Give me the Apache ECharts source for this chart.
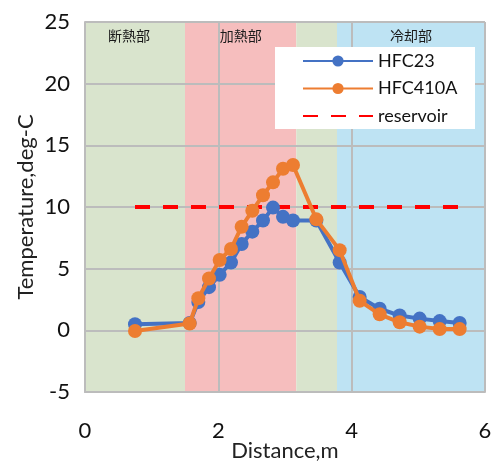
<!DOCTYPE html>
<html>
<head>
<meta charset="utf-8">
<script src="https://cdn.jsdelivr.net/npm/echarts@6/dist/echarts.min.js"></script>
<style>html,body{margin:0;padding:0;background:#fff;}#c{width:494px;height:464px;}</style>
</head>
<body>
<div id="c"></div>
<script>
// Data
const distance = [0.75, 1.57, 1.70, 1.86, 2.02, 2.19, 2.35, 2.51, 2.67, 2.82, 2.97, 3.12, 3.47, 3.82, 4.12, 4.42, 4.72, 5.02, 5.32, 5.62];
const hfc23 = [0.5, 0.6, 2.3, 3.5, 4.5, 5.5, 7.0, 8.0, 8.9, 9.95, 9.2, 8.9, 8.9, 5.5, 2.7, 1.75, 1.2, 0.95, 0.75, 0.6];
const hfc410a = [-0.05, 0.55, 2.6, 4.2, 5.7, 6.6, 8.4, 9.7, 10.95, 12.0, 13.1, 13.4, 9.0, 6.5, 2.4, 1.3, 0.65, 0.3, 0.1, 0.1];
const reservoirX = [0.75, 5.62];
const reservoirY = [10, 10];
const zoneStart = [0, 1.5, 3.17, 3.78];
const zoneEnd = [1.5, 3.17, 3.78, 6];
const zoneLabels = ['断熱部', '加熱部', '', '冷却部'];
const xTicks = [0, 2, 4, 6];
const yTicks = [-5, 0, 5, 10, 15, 20, 25];

const zoneColors = ['#D9E4CD', '#F6BEBE', '#D9E4CD', '#BEE3F3'];
const zoneLabelOffsets = [-6, 0, 0, 0];

const pair = (xs, ys) => xs.map((x, i) => [x, ys[i]]);
const font = 'Lato, "Liberation Sans", sans-serif';
const grey = '#BCBCBC';

const chart = echarts.init(document.getElementById('c'), null, {renderer: 'canvas'});
chart.setOption({
  animation: false,
  backgroundColor: '#fff',
  grid: {left: 85, right: 9, top: 22, bottom: 72, containLabel: false, outerBoundsMode: 'none'},
  xAxis: {
    type: 'value', min: xTicks[0], max: xTicks[xTicks.length - 1], interval: 2, zlevel: 1,
    name: 'Distance,m', nameLocation: 'middle', nameGap: 48, nameMoveOverlap: false,
    nameTextStyle: {fontFamily: font, fontSize: 22, color: '#222'},
    axisLine: {show: true, onZero: false, lineStyle: {color: grey, width: 2}},
    axisTick: {show: false},
    axisLabel: {fontFamily: font, fontSize: 22, color: '#111', margin: 28},
    splitLine: {show: true, showMinLine: true, showMaxLine: true, lineStyle: {color: grey, width: 2, opacity: 1}}
  },
  yAxis: {
    type: 'value', min: yTicks[0], max: yTicks[yTicks.length - 1], interval: 5, zlevel: 1,
    name: 'Temperature,deg-C', nameLocation: 'middle', nameGap: 48, nameMoveOverlap: false,
    nameTextStyle: {fontFamily: font, fontSize: 22, color: '#222'},
    axisLine: {show: true, lineStyle: {color: grey, width: 2}},
    axisTick: {show: false},
    axisLabel: {fontFamily: font, fontSize: 22, color: '#111', margin: 15},
    splitLine: {show: true, showMinLine: true, showMaxLine: true, lineStyle: {color: grey, width: 2, opacity: 1}}
  },
  legend: {
    zlevel: 3, z: 10,
    left: 302, top: 52, orient: 'vertical', padding: 0,
    itemWidth: 70, itemHeight: 14, itemGap: 9.5,
    textStyle: {fontFamily: font, fontSize: 18, color: '#111'},
    data: ['HFC23', 'HFC410A', {name: 'reservoir', itemStyle: {opacity: 0}}]
  },
  graphic: [{
    type: 'rect', zlevel: 3, z: 1, shape: {x: 275, y: 47, width: 200, height: 82},
    style: {fill: '#fff'}
  }],
  series: [
    {
      name: 'zones', type: 'line', data: [], zlevel: 0, z: 0, silent: true,
      markArea: {
        silent: true,
        data: zoneStart.map((s, i) => [
          {xAxis: s, yAxis: yTicks[0], itemStyle: {color: zoneColors[i], opacity: 1},
           label: {show: !!zoneLabels[i], formatter: zoneLabels[i], position: 'insideTop', distance: 7,
                   offset: [zoneLabelOffsets[i], 0],
                   fontFamily: '"Noto Sans CJK JP", sans-serif', fontSize: 14, color: '#1a1a1a'}},
          {xAxis: zoneEnd[i], yAxis: yTicks[yTicks.length - 1]}
        ])
      }
    },
    {
      name: 'HFC23', type: 'line', zlevel: 2, z: 2, data: pair(distance, hfc23),
      symbol: 'circle', symbolSize: 14,
      lineStyle: {color: '#4472C4', width: 4},
      itemStyle: {color: '#4472C4'}
    },
    {
      name: 'HFC410A', type: 'line', zlevel: 2, z: 3, data: pair(distance, hfc410a),
      symbol: 'circle', symbolSize: 14,
      lineStyle: {color: '#ED7D31', width: 4},
      itemStyle: {color: '#ED7D31'}
    },
    {
      name: 'reservoir', type: 'line', zlevel: 2, z: 2, data: pair(reservoirX, reservoirY),
      symbol: 'none',
      lineStyle: {color: '#FF0000', width: 4, type: [15, 13]},
      itemStyle: {color: '#FF0000'}
    }
  ]
});
</script>
</body>
</html>
